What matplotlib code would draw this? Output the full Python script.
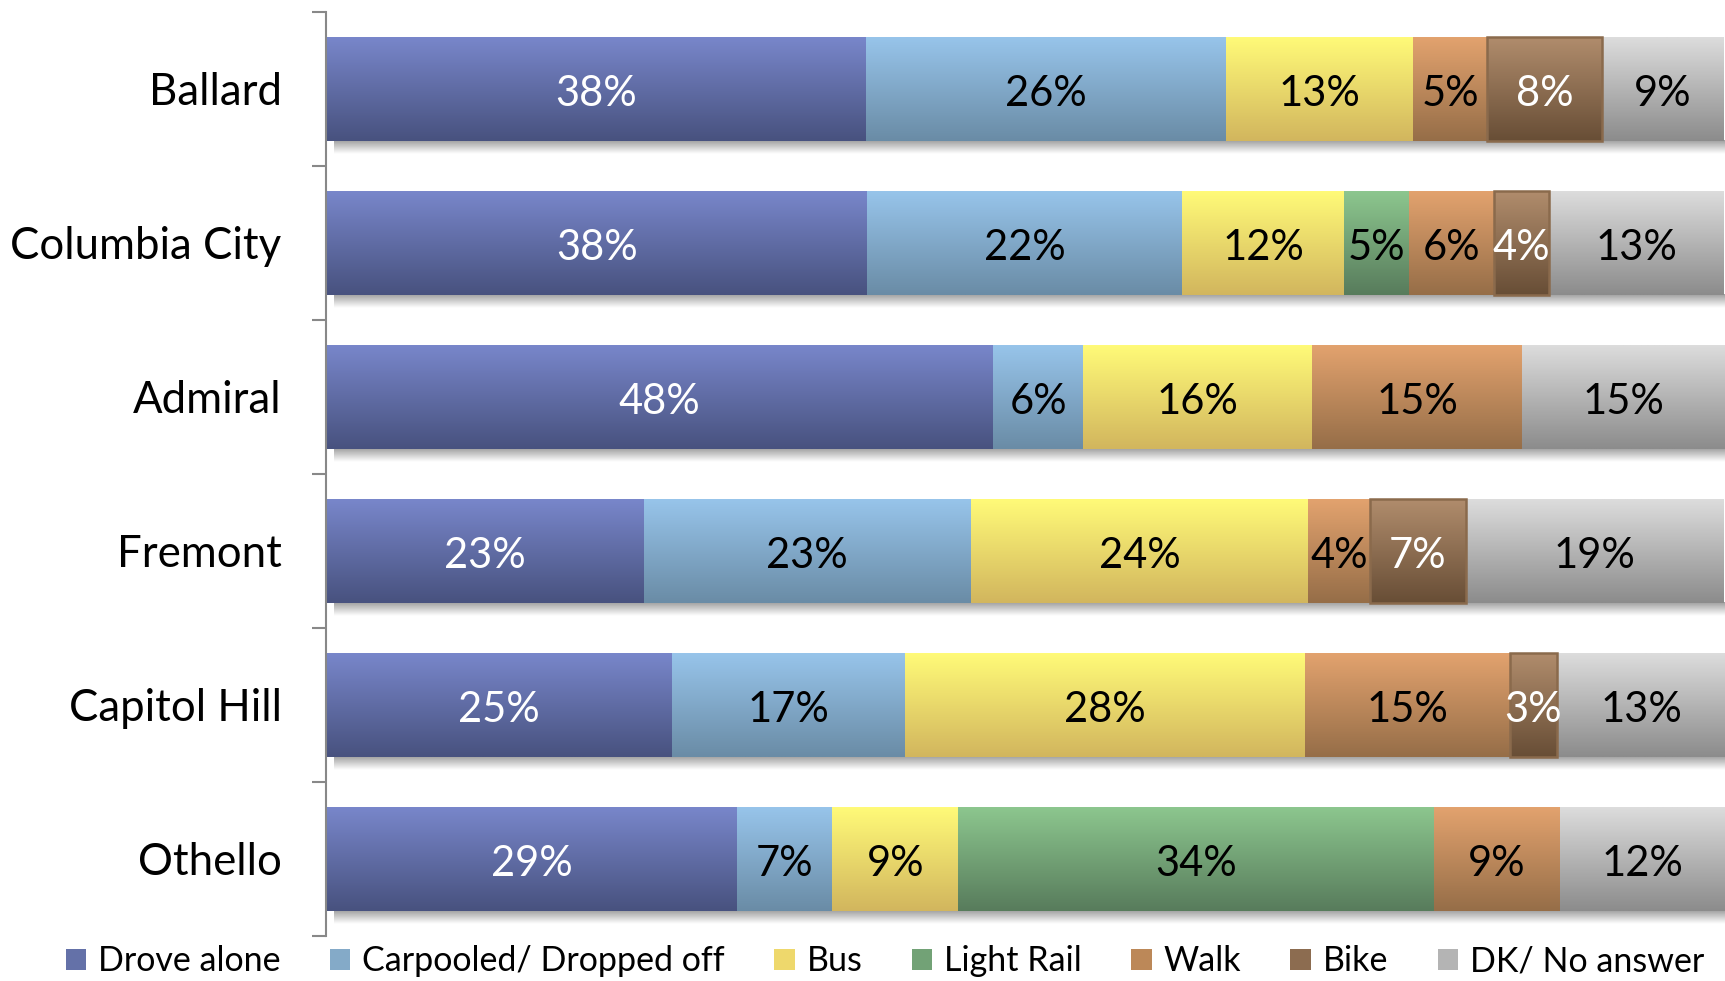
import matplotlib
matplotlib.use("Agg")
import matplotlib.pyplot as plt
import numpy as np
from matplotlib.colors import LinearSegmentedColormap
from matplotlib.patches import Rectangle, Patch

# categorias (de arriba a abajo)
areas = ["Ballard", "Columbia City", "Admiral", "Fremont", "Capitol Hill", "Othello"]
modos = ["Drove alone", "Carpooled/ Dropped off", "Bus", "Light Rail", "Walk", "Bike", "DK/ No answer"]

drove = [38.6, 38.7, 47.7, 22.7, 24.7, 29.4]
carpool = [25.7, 22.5, 6.4, 23.4, 16.7, 6.8]
bus = [13.4, 11.6, 16.4, 24.1, 28.6, 9.0]
rail = [0, 4.6, 0, 0, 0, 34.0]
walk = [5.3, 6.1, 15.0, 4.4, 14.6, 9.0]
bike = [8.2, 3.9, 0, 6.9, 3.4, 0]
dk = [8.7, 12.5, 14.5, 18.4, 12.0, 11.8]

# etiquetas tal como aparecen en el grafico
lab_drove = [38, 38, 48, 23, 25, 29]
lab_carpool = [26, 22, 6, 23, 17, 7]
lab_bus = [13, 12, 16, 24, 28, 9]
lab_rail = [0, 5, 0, 0, 0, 34]
lab_walk = [5, 6, 15, 4, 15, 9]
lab_bike = [8, 4, 0, 7, 3, 0]
lab_dk = [9, 13, 15, 19, 13, 12]

series = [drove, carpool, bus, rail, walk, bike, dk]
etiquetas = [lab_drove, lab_carpool, lab_bus, lab_rail, lab_walk, lab_bike, lab_dk]

'''colores arriba / abajo para el degradado'''
col_top = ["#7886CA", "#97C4EA", "#FFFA78", "#8CC68E", "#E2A26E", "#B08C6C", "#DCDCDC"]
col_bot = ["#48527F", "#6A8CA6", "#D2B65E", "#587C5C", "#966E48", "#684E36", "#8C8C8C"]
col_mid = ["#6471A8", "#84AAC8", "#EED86C", "#72A276", "#BC8858", "#8C6C50", "#B4B4B4"]
col_txt = ["white", "black", "black", "black", "black", "white", "black"]

plt.rcParams['font.family'] = ['Lato', 'DejaVu Sans']

fig = plt.figure(figsize=(17.25, 9.81), dpi=100)
ax = fig.add_axes([0.189, 0.0459, 0.811, 0.9419])

h = 0.67
grad = np.linspace(0, 1, 64).reshape(-1, 1)

for i in range(len(areas)):
    # sombra debajo de la barra
    total = sum(s[i] for s in series)
    sombra = LinearSegmentedColormap.from_list("s", [(0, 0, 0, 0.38), (0, 0, 0, 0.0)])
    ax.imshow(grad, cmap=sombra, extent=(0.6, total + 0.3, i + h / 2 + 0.09, i + h / 2),
              origin='upper', aspect='auto', interpolation='bilinear', zorder=1)
    left = 0
    for k, s in enumerate(series):
        w = s[i]
        if w <= 0:
            continue
        cm = LinearSegmentedColormap.from_list("g", [col_top[k], col_bot[k]])
        ax.imshow(grad, cmap=cm, extent=(left, left + w, i + h / 2, i - h / 2),
                  origin='upper', aspect='auto', interpolation='bilinear', zorder=2)
        if modos[k] == "Bike":
            ax.add_patch(Rectangle((left, i - h / 2), w, h, fill=False,
                                   edgecolor="#8A6A4C", linewidth=1.8, zorder=3))
        ax.text(left + w / 2, i + 0.03, "%d%%" % etiquetas[k][i], ha='center', va='center',
                fontsize=30, color=col_txt[k], zorder=4)
        left += w

ax.set_xlim(0, 100)
ax.set_ylim(len(areas) - 0.5, -0.5)

ax.set_yticks(range(len(areas)))
ax.set_yticklabels(areas, fontsize=31.5)
ax.set_yticks(np.arange(-0.5, len(areas)), minor=True)
ax.tick_params(axis='y', which='major', length=0, pad=32)
ax.tick_params(axis='y', which='minor', length=10, width=1.5, color="#888888")
ax.set_xticks([])

for lado in ['top', 'right', 'bottom']:
    ax.spines[lado].set_visible(False)
ax.spines['left'].set_color("#888888")
ax.spines['left'].set_linewidth(1.5)

'''leyenda abajo'''
handles = [Patch(facecolor=col_mid[k], edgecolor='none') for k in range(len(modos))]
fig.legend(handles, modos, loc='center', bbox_to_anchor=(0.513, 0.02), ncol=7,
           frameon=False, fontsize=24.5, handlelength=0.6, handleheight=0.6,
           handletextpad=0.35, columnspacing=1.45, borderpad=0)

fig.savefig("out.png", dpi=100)
